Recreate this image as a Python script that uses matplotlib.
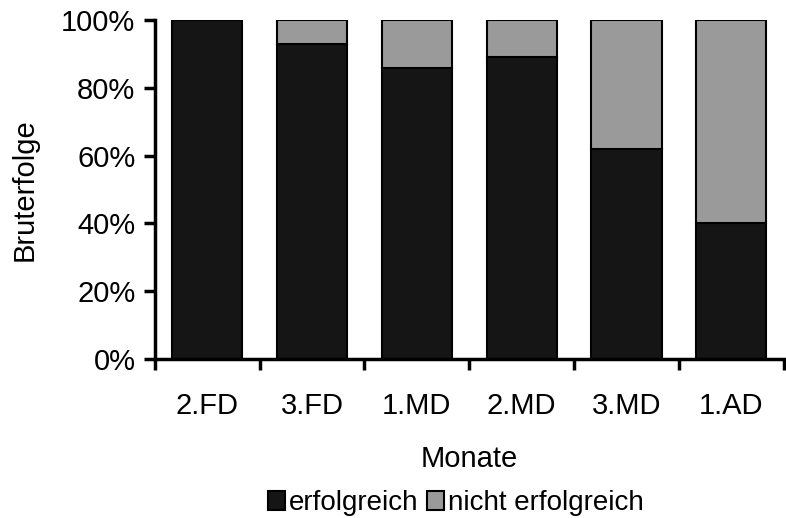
import numpy as np
import matplotlib.pyplot as plt
from matplotlib.ticker import PercentFormatter

monate = ["2.FD", "3.FD", "1.MD", "2.MD", "3.MD", "1.AD"]
erfolgreich = [100, 93, 86, 89, 62, 40]
nicht_erfolgreich = [100 - v for v in erfolgreich]

plt.rcParams['font.family'] = ['Liberation Sans', 'DejaVu Sans']
fs = 21

fig = plt.figure(figsize=(7.86, 5.18), dpi=100)
ax = fig.add_axes([0.197, 0.307, 0.80, 0.654])

x = np.arange(len(monate))
ax.bar(x, erfolgreich, width=0.67, color="#151515", edgecolor="black",
       linewidth=1.5, label="erfolgreich")
ax.bar(x, nicht_erfolgreich, bottom=erfolgreich, width=0.67, color="#9a9a9a",
       edgecolor="black", linewidth=1.5, label="nicht erfolgreich")

ax.set_xlim(-0.5, len(monate) - 0.5)
ax.set_ylim(0, 100)
ax.set_yticks(range(0, 101, 20))
ax.yaxis.set_major_formatter(PercentFormatter(decimals=0))

# category labels centred, tick marks between the groups
ax.set_xticks(x)
ax.set_xticklabels(monate)
ax.set_xticks(np.arange(-0.5, len(monate), 1), minor=True)
ax.tick_params(axis="x", which="major", length=0, pad=24, labelsize=fs)
ax.tick_params(axis="x", which="minor", length=8, width=2.5, direction="out")
ax.tick_params(axis="y", length=8, width=2.5, direction="out", labelsize=fs,
               pad=6)

for s in ["top", "right"]:
    ax.spines[s].set_visible(False)
for s in ["left", "bottom"]:
    ax.spines[s].set_linewidth(2.5)

ax.set_xlabel("Monate", fontsize=fs, labelpad=18)
ax.set_ylabel("Bruterfolge", fontsize=fs, labelpad=16)

fig.legend(loc="lower center", bbox_to_anchor=(0.58, -0.045), ncol=2,
           frameon=False, fontsize=20, handlelength=0.6, handleheight=0.7,
           handletextpad=0.15, columnspacing=0.3)

fig.savefig("out.png", dpi=100)
